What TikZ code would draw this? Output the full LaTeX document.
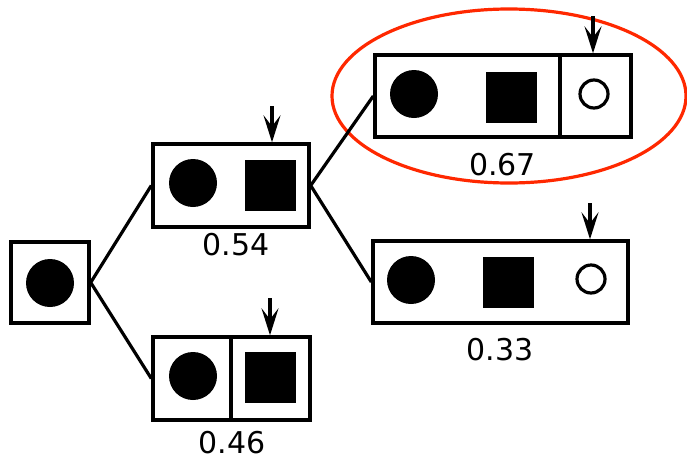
\documentclass[tikz,border=0pt]{standalone}
\usepackage{fontspec}
\setmainfont{DejaVu Sans}
\usetikzlibrary{arrows.meta}
\definecolor{hl}{RGB}{255,40,0}
\begin{document}
\begin{tikzpicture}[x=1pt,y=-1pt,
 box/.style={draw, rectangle, inner sep=0pt, line width=3.4pt},
 dot/.style={circle, fill, inner sep=0pt, minimum size=48pt},
 sq/.style={rectangle, fill, inner sep=0pt, minimum size=51pt},
 ring/.style={circle, draw, inner sep=0pt, minimum size=28pt, line width=3.2pt},
 lab/.style={font=\fontsize{30}{36}\selectfont, inner sep=0pt},
 link/.style={line width=3.2pt},
 ptr/.style={-{Stealth[length=27pt,width=17pt,inset=11pt]}, line width=3.2pt}]
\useasboundingbox (0,0) rectangle (687,469);
% highlight ellipse
\draw[hl, line width=3.2pt] (509,96) ellipse [x radius=177pt, y radius=87pt];
% root
\node[box, minimum width=78pt, minimum height=81pt] (r) at (50,282.5) {};
\node[dot] (rc) at (50,283) {};
% box A (0.54)
\node[box, minimum width=156pt, minimum height=83pt] (A) at (231,185.5) {};
\node[dot] (Ac) at (193,183) {};
\node[sq] (As) at (270.5,185) {};
\node[lab] (Al) at (236,245) {0.54};
\coordinate (Ap) at (272,106);
\draw[ptr] (Ap) -- (Ap |- A.north);
% box B (0.46)
\node[box, minimum width=157pt, minimum height=83pt] (B) at (231.5,378.5) {};
\coordinate (Bd) at (231,0);
\draw[link] (B.north -| Bd) -- (B.south -| Bd);
\node[dot] (Bc) at (193,376) {};
\node[sq] (Bs) at (270,377) {};
\node[lab] (Bl) at (232,443) {0.46};
\coordinate (Bp) at (270,298);
\draw[ptr] (Bp) -- (Bp |- B.north);
% box C (0.67)
\node[box, minimum width=256pt, minimum height=82pt] (C) at (503,96) {};
\coordinate (Cd) at (560,0);
\draw[link] (C.north -| Cd) -- (C.south -| Cd);
\node[dot] (Cc) at (414,94) {};
\node[sq] (Cs) at (511,97) {};
\node[ring] (Cr) at (594,94) {};
\node[lab] (Cl) at (502.5,165) {0.67};
\coordinate (Cp) at (593,16);
\draw[ptr] (Cp) -- (Cp |- C.north);
% box D (0.33)
\node[box, minimum width=255pt, minimum height=82pt] (D) at (500.5,282) {};
\node[dot] (Dc) at (411,280) {};
\node[sq] (Ds) at (508,282) {};
\node[ring] (Dr) at (591,279) {};
\node[lab] (Dl) at (500,350) {0.33};
\coordinate (Dp) at (590,203);
\draw[ptr] (Dp) -- (Dp |- D.north);
% connectors
\draw[link] (r.east) -- (A.west);
\draw[link] (r.east) -- (B.west);
\draw[link] (A.east) -- (C.west);
\draw[link] (A.east) -- (D.west);
\end{tikzpicture}
\end{document}
